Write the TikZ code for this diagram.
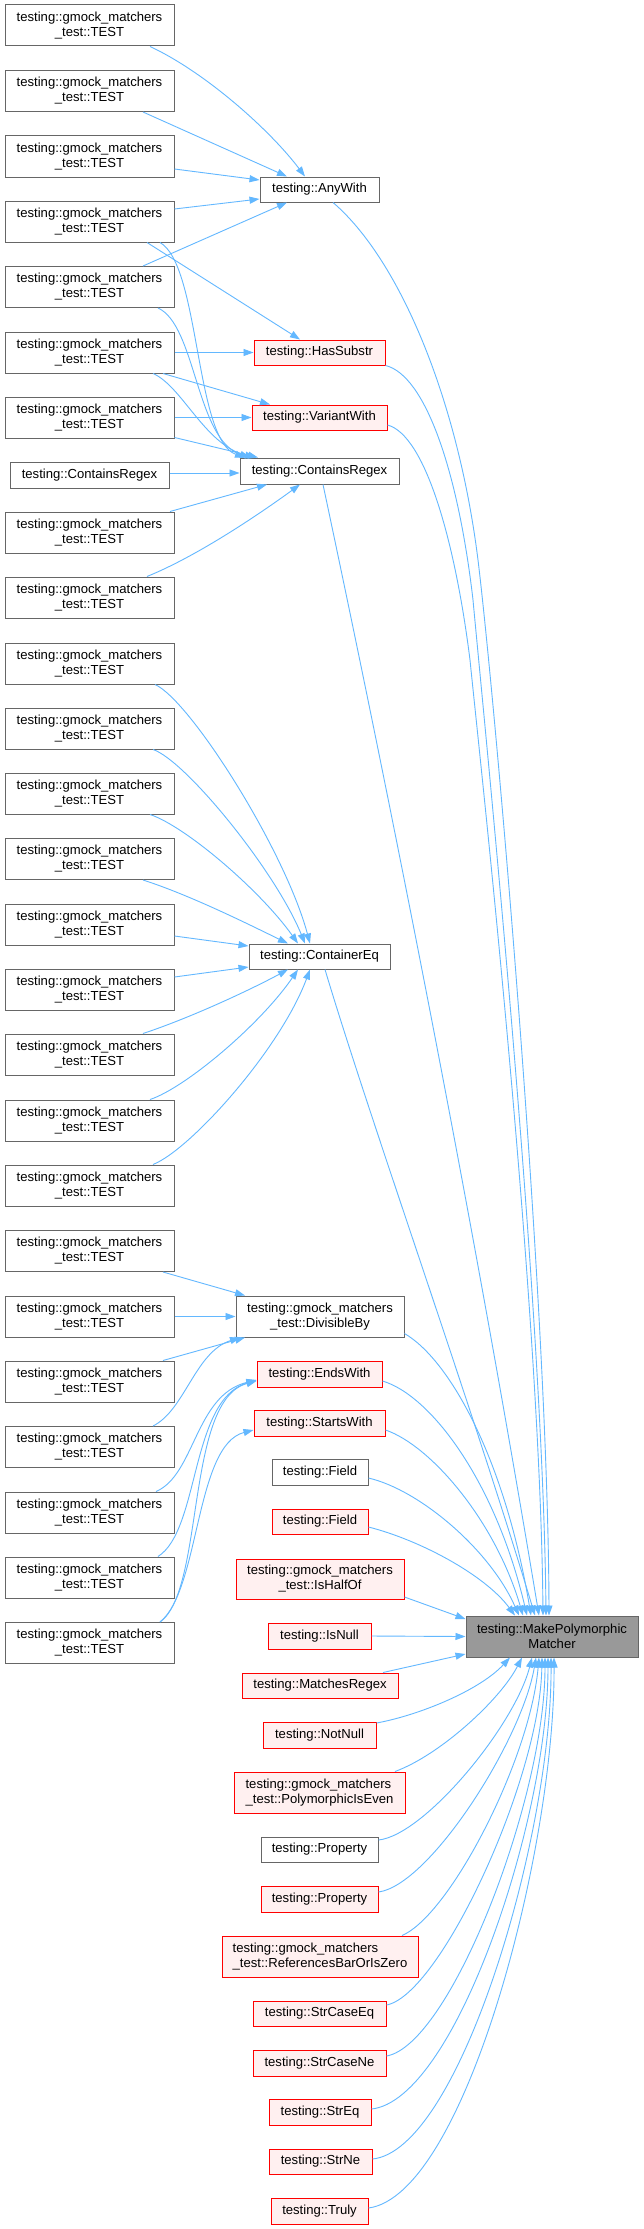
\documentclass[tikz,border=0pt]{standalone}
\usepackage{fontspec}
\setmainfont{Liberation Sans}
\usetikzlibrary{arrows.meta,calc}
\definecolor{gforty}{HTML}{666666}
\definecolor{gsixty}{HTML}{999999}
\definecolor{pinkfill}{HTML}{FFF0F0}
\definecolor{edgeblue}{HTML}{63B8FF}
\newcommand{\dxf}{\fontsize{13.1}{15}\selectfont}
\newcommand{\tst}{testing::gmock\_matchers\\\_test::TEST}
\begin{document}
\begin{tikzpicture}[x=1pt,y=-1pt,
  nb/.style={draw=gforty, fill=white, line width=1pt, inner sep=0pt, align=center, font=\dxf},
  rbx/.style={nb, draw=red, fill=pinkfill},
  tt/.style={nb, minimum width=169pt, minimum height=41pt},
  mpb/.style={nb, fill=gsixty},
  e/.style={draw=edgeblue, line width=0.9pt, -{Triangle[length=10pt,width=7pt]}}]
\fill[white] (0,0) rectangle (644,2229);
\useasboundingbox (0,0) rectangle (644,2229);

% left column
\foreach \n/\yy in {1/25.5, 2/91, 3/156.5, 4/221.5, 5/287, 6/352.5, 7/417.5, 8/532.5, 9/597.5,
  10/663.5, 11/728.5, 12/793.5, 13/859, 14/924.5, 15/989.5, 16/1054.5, 17/1120.5, 18/1185.5,
  19/1251, 20/1316.5, 21/1381.5, 22/1447, 23/1512.5, 24/1577.5, 25/1643}
  \node[tt] (T\n) at (89.5,\yy) {\tst};
\node[nb, minimum width=159pt, minimum height=26pt] (CRL) at (89.5,475) {testing::ContainsRegex};

% middle column
\node[nb, minimum width=119pt, minimum height=25pt] (AW) at (319.5,189.5) {testing::AnyWith};
\node[rbx, minimum width=131pt, minimum height=25pt] (HS) at (319.5,352.5) {testing::HasSubstr};
\node[rbx, minimum width=135pt, minimum height=25pt] (VW) at (319.5,417.5) {testing::VariantWith};
\node[nb, minimum width=159pt, minimum height=26pt] (CR) at (319.5,471) {testing::ContainsRegex};
\node[nb, minimum width=141pt, minimum height=25pt] (CE) at (319.5,956.5) {testing::ContainerEq};
\node[nb, minimum width=168pt, minimum height=41pt] (DB) at (320,1316.5) {testing::gmock\_matchers\\\_test::DivisibleBy};
\node[rbx, minimum width=125pt, minimum height=26pt] (EW) at (319.5,1374) {testing::EndsWith};
\node[rbx, minimum width=131pt, minimum height=26pt] (SW) at (319.5,1423) {testing::StartsWith};
\node[nb, minimum width=96pt, minimum height=26pt] (FG) at (320,1472) {testing::Field};
\node[rbx, minimum width=96pt, minimum height=25pt] (FR) at (320,1521.5) {testing::Field};
\node[rbx, minimum width=168pt, minimum height=40pt] (IH) at (320,1579) {testing::gmock\_matchers\\\_test::IsHalfOf};
\node[rbx, minimum width=103pt, minimum height=26pt] (IN) at (319.5,1636) {testing::IsNull};
\node[rbx, minimum width=156pt, minimum height=25pt] (MR) at (320,1685.5) {testing::MatchesRegex};
\node[rbx, minimum width=113pt, minimum height=26pt] (NN) at (319.5,1735) {testing::NotNull};
\node[rbx, align=left, minimum width=171pt, minimum height=41pt] (PE) at (319.5,1792.5) {testing::gmock\_matchers\\\_test::PolymorphicIsEven};
\node[nb, minimum width=117pt, minimum height=25pt] (PG) at (319.5,1849.5) {testing::Property};
\node[rbx, minimum width=117pt, minimum height=26pt] (PR) at (319.5,1899) {testing::Property};
\node[rbx, align=left, minimum width=196pt, minimum height=41pt] (RB) at (320,1956.5) {testing::gmock\_matchers\\\_test::ReferencesBarOrIsZero};
\node[rbx, minimum width=133pt, minimum height=25pt] (SCE) at (319.5,2013.5) {testing::StrCaseEq};
\node[rbx, minimum width=133pt, minimum height=26pt] (SCN) at (319.5,2063) {testing::StrCaseNe};
\node[rbx, minimum width=102pt, minimum height=26pt] (SE) at (320,2112) {testing::StrEq};
\node[rbx, minimum width=103pt, minimum height=25pt] (SN) at (320.5,2161.5) {testing::StrNe};
\node[rbx, minimum width=97pt, minimum height=26pt] (TR) at (319.5,2211) {testing::Truly};
\node[mpb, minimum width=172pt, minimum height=41pt] (MP) at (552,1636.5) {testing::MakePolymorphic\\Matcher};

% AnyWith
\draw[e] ($(T1.south)+(60.5,0)$) .. controls (205,72) and (270,130) .. ($(AW.north)+(-14.5,0)$);
\draw[e] ($(T2.south)+(53.5,0)$) -- ($(AW.north)+(-32.5,0)$);
\draw[e] ($(T3.east)+(0,12.5)$) -- ($(AW.west)+(0,-9.5)$);
\draw[e] ($(T4.east)+(0,-12.5)$) -- ($(AW.west)+(0,9.5)$);
\draw[e] ($(T5.north)+(53.5,0)$) -- ($(AW.south)+(-32.5,0)$);
% HasSubstr
\draw[e] ($(T4.south)+(57.5,0)$) -- ($(HS.north)+(-19.5,0)$);
\draw[e] (T6.east) -- (HS.west);
% VariantWith
\draw[e] ($(T6.south)+(73.5,0)$) -- ($(VW.north)+(-49.5,0)$);
\draw[e] (T7.east) -- (VW.west);
% ContainsRegex
\draw[e] ($(T4.south)+(70.5,0)$) .. controls (200,265) and (195,440) .. ($(CR.north)+(-74.5,0)$);
\draw[e] ($(T5.south)+(68.5,0)$) .. controls (196,325) and (196,440) .. ($(CR.north)+(-69.5,0)$);
\draw[e] ($(T6.south)+(63.5,0)$) .. controls (182,386) and (205,445) .. ($(CR.north)+(-64.5,0)$);
\draw[e] ($(T7.south east)+(0,-1)$) -- ($(CR.north)+(-61.5,0)$);
\draw[e] ($(CRL.east)+(0,-2)$) -- ($(CR.west)+(0,2)$);
\draw[e] ($(T8.north)+(80.5,0)$) -- ($(CR.south)+(-52.5,0)$);
\draw[e] ($(T9.north)+(57.5,0)$) .. controls (200,555) and (265,510) .. ($(CR.south)+(-19.5,0)$);
% ContainerEq
\draw[e] ($(T10.south)+(65.5,0)$) .. controls (190,700) and (285,850) .. ($(CE.north)+(-9.5,0)$);
\draw[e] ($(T11.south)+(63.5,0)$) .. controls (185,760) and (275,870) .. ($(CE.north)+(-14.5,0)$);
\draw[e] ($(T12.south)+(60.5,0)$) .. controls (185,826) and (260,890) .. ($(CE.north)+(-21.5,0)$);
\draw[e] ($(T13.south)+(53.5,0)$) .. controls (190,895) and (250,925) .. ($(CE.north)+(-31.5,0)$);
\draw[e] ($(T14.east)+(0,11.5)$) -- ($(CE.west)+(0,-10.5)$);
\draw[e] ($(T15.east)+(0,-12.5)$) -- ($(CE.west)+(0,10.5)$);
\draw[e] ($(T16.north)+(53.5,0)$) .. controls (190,1018) and (250,990) .. ($(CE.south)+(-31.5,0)$);
\draw[e] ($(T17.north)+(60.5,0)$) .. controls (185,1088) and (260,1025) .. ($(CE.south)+(-21.5,0)$);
\draw[e] ($(T18.north)+(63.5,0)$) .. controls (190,1150) and (280,1050) .. ($(CE.south)+(-9.5,0)$);
% DivisibleBy
\draw[e] ($(T19.south)+(73.5,0)$) -- ($(DB.north)+(-75,0)$);
\draw[e] (T20.east) -- (DB.west);
\draw[e] ($(T21.north)+(73.5,0)$) -- ($(DB.south)+(-75,0)$);
\draw[e] ($(T22.north)+(63.5,0)$) .. controls (185,1410) and (195,1352) .. ($(DB.south)+(-80,0)$);
% EndsWith / StartsWith
\draw[e] ($(T23.north)+(66.5,0)$) .. controls (195,1475) and (195,1395) .. ($(EW.west)+(0,6)$);
\draw[e] ($(T24.north)+(68.5,0)$) .. controls (200,1530) and (190,1400) .. ($(EW.west)+(0,6)$);
\draw[e] ($(T25.north)+(70.5,0)$) .. controls (205,1590) and (185,1400) .. ($(EW.west)+(0,7)$);
\draw[e] ($(T25.north)+(70.5,0)$) .. controls (200,1590) and (195,1445) .. ($(SW.west)+(0,7)$);
% into MakePolymorphicMatcher, from above
\draw[e] ($(AW.south)+(13.5,0)$) .. controls (400,260) and (458,400) .. (478,560) .. controls (495,700) and (548,1300) .. ($(MP.north)+(-3,0)$);
\draw[e] (HS.south east) .. controls (425,375) and (458,470) .. (473,600) .. controls (484,720) and (543,1300) .. ($(MP.north)+(-6,0)$);
\draw[e] ($(VW.east)+(0,7.5)$) .. controls (425,435) and (455,540) .. (470,660) .. controls (480,760) and (540,1300) .. ($(MP.north)+(-9,0)$);
\draw[e] ($(CR.south)+(3.5,0)$) .. controls (390,800) and (470,1200) .. ($(MP.north)+(-13,0)$);
\draw[e] ($(CE.south)+(5.5,0)$) .. controls (370,1120) and (470,1400) .. ($(MP.north)+(-17,0)$);
\draw[e] ($(DB.east)+(0,17)$) .. controls (450,1360) and (505,1460) .. ($(MP.north)+(-21,0)$);
\draw[e] ($(EW.east)+(0,7)$) .. controls (430,1395) and (495,1480) .. ($(MP.north)+(-25,0)$);
\draw[e] ($(SW.east)+(0,7)$) .. controls (430,1445) and (495,1520) .. ($(MP.north)+(-29,0)$);
\draw[e] ($(FG.east)+(0,6)$) .. controls (420,1490) and (490,1550) .. ($(MP.north)+(-33,0)$);
\draw[e] ($(FR.east)+(0,5.5)$) .. controls (420,1540) and (485,1575) .. ($(MP.north)+(-37,0)$);
% sides
\draw[e] ($(IH.east)+(0,18)$) -- ($(MP.west)+(0,-17.5)$);
\draw[e] (IN.east) -- (MP.west);
\draw[e] ($(MR.north)+(63,0)$) -- ($(MP.west)+(0,17.5)$);
% from below
\draw[e] ($(NN.east)+(0,-12)$) .. controls (420,1715) and (480,1690) .. ($(MP.south)+(-42,0)$);
\draw[e] ($(PE.north)+(75.5,0)$) .. controls (440,1755) and (500,1700) .. ($(MP.south)+(-30,0)$);
\draw[e] ($(PG.east)+(0,-9.5)$) .. controls (425,1835) and (515,1725) .. ($(MP.south)+(-20,0)$);
\draw[e] ($(PR.east)+(0,-7)$) .. controls (430,1885) and (522,1740) .. ($(MP.south)+(-16,0)$);
\draw[e] ($(RB.north)+(82,0)$) .. controls (450,1915) and (530,1760) .. ($(MP.south)+(-13,0)$);
\draw[e] ($(SCE.east)+(0,-8.5)$) .. controls (440,1995) and (540,1780) .. ($(MP.south)+(-10,0)$);
\draw[e] ($(SCN.east)+(0,-7)$) .. controls (450,2045) and (545,1800) .. ($(MP.south)+(-7,0)$);
\draw[e] ($(SE.east)+(0,-3)$) .. controls (455,2100) and (548,1820) .. ($(MP.south)+(-4,0)$);
\draw[e] ($(SN.east)+(0,-2.5)$) .. controls (460,2150) and (552,1835) .. ($(MP.south)+(-1,0)$);
\draw[e] ($(TR.east)+(0,-3)$) .. controls (465,2195) and (555,1850) .. ($(MP.south)+(2,0)$);
\end{tikzpicture}
\end{document}
